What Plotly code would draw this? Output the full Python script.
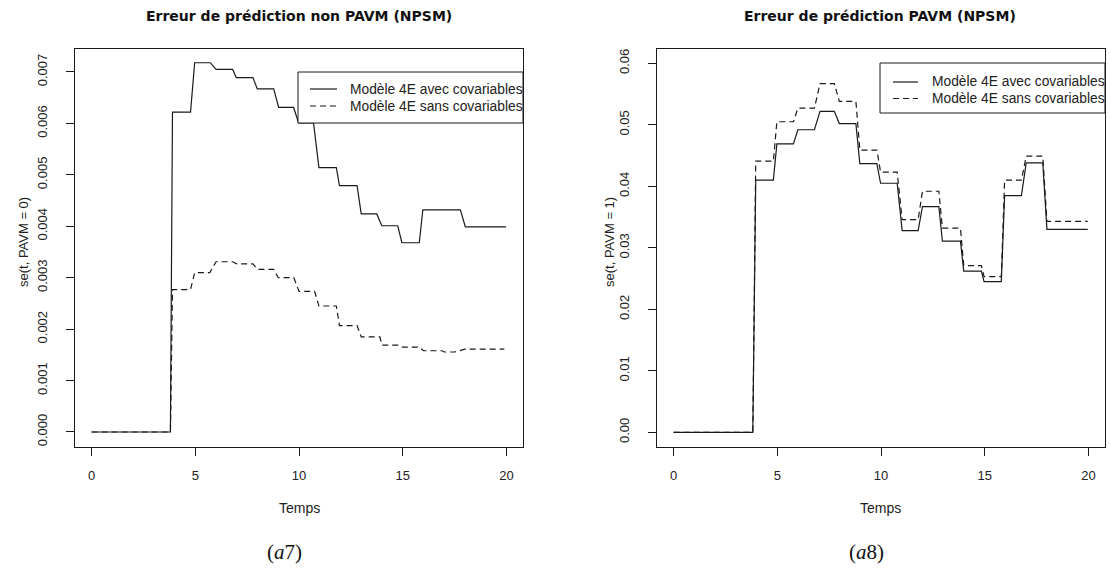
import plotly.graph_objects as go

# ---------------- data ----------------
# Left panel: prediction error, non PAVM (NPSM)
t_left_avec = [0, 3.80, 3.90, 4.77, 4.97, 5.73, 6.00, 6.80, 6.98, 7.78, 7.99, 8.78, 9.02, 9.74, 9.98,
               10.70, 10.96, 11.80, 11.95, 12.80, 13.00, 13.75, 13.99, 14.76, 14.96, 15.80, 15.97,
               17.78, 18.02, 19.98]
se_left_avec = [0, 0, 0.00622, 0.00622, 0.00718, 0.00718, 0.00705, 0.00705, 0.00689, 0.00689,
                0.00667, 0.00667, 0.00631, 0.00631, 0.00601, 0.00601, 0.00514, 0.00514, 0.00479,
                0.00479, 0.00424, 0.00424, 0.00401, 0.00401, 0.00368, 0.00368, 0.00432, 0.00432,
                0.00399, 0.00399]

t_left_sans = [0, 3.80, 3.90, 4.77, 4.97, 5.70, 6.00, 6.80, 7.00, 7.78, 8.00, 8.78, 9.00, 9.75,
               10.00, 10.75, 10.96, 11.80, 11.95, 12.80, 13.00, 13.90, 14.00, 14.80, 15.00, 15.80,
               16.00, 16.90, 17.00, 17.50, 18.00, 19.90]
se_left_sans = [0, 0, 0.00277, 0.00277, 0.00310, 0.00310, 0.00331, 0.00331, 0.00327, 0.00327,
                0.00316, 0.00316, 0.00300, 0.00300, 0.002735, 0.002735, 0.00245, 0.00245, 0.00207,
                0.00207, 0.00185, 0.00185, 0.00169, 0.00169, 0.00165, 0.00165, 0.00158, 0.00158,
                0.001555, 0.001555, 0.00161, 0.00161]

# Right panel: prediction error, PAVM (NPSM)
t_right = [0, 3.82, 3.96, 4.81, 4.98, 5.78, 5.99, 6.79, 7.06, 7.75, 7.99, 8.79, 8.98, 9.80, 9.98,
           10.78, 11.02, 11.79, 12.00, 12.79, 12.96, 13.83, 13.99, 14.84, 14.97, 15.80, 15.96,
           16.77, 17.00, 17.80, 18.00, 19.97]
se_right_avec = [0, 0, 0.0410, 0.0410, 0.0469, 0.0469, 0.0492, 0.0492, 0.0522, 0.0522, 0.0502,
                 0.0502, 0.0437, 0.0437, 0.0405, 0.0405, 0.0328, 0.0328, 0.0367, 0.0367, 0.0311,
                 0.0311, 0.0262, 0.0262, 0.0245, 0.0245, 0.0385, 0.0385, 0.0438, 0.0438, 0.0330,
                 0.0330]
se_right_sans = [0, 0, 0.0441, 0.0441, 0.0505, 0.0505, 0.0527, 0.0527, 0.0567, 0.0567, 0.0538,
                 0.0538, 0.0459, 0.0459, 0.0423, 0.0423, 0.0346, 0.0346, 0.0392, 0.0392, 0.0332,
                 0.0332, 0.0271, 0.0271, 0.0253, 0.0253, 0.0410, 0.0410, 0.0449, 0.0449, 0.0343,
                 0.0343]

series_names = ["Modèle 4E avec covariables", "Modèle 4E sans covariables"]
titles = ["Erreur de prédiction non PAVM (NPSM)", "Erreur de prédiction PAVM (NPSM)"]
y_titles = ["se(t, PAVM = 0)", "se(t, PAVM = 1)"]
x_title = "Temps"
captions = ["(<i>a</i>7)", "(<i>a</i>8)"]
x_ticks = [0, 5, 10, 15, 20]
y_ticks_left = [0, 0.001, 0.002, 0.003, 0.004, 0.005, 0.006, 0.007]
y_ticks_right = [0, 0.01, 0.02, 0.03, 0.04, 0.05, 0.06]

# ---------------- layout helpers (pixel -> paper) ----------------
W, H = 1110, 571
def px(x):
    return x / W
def py(y):
    return 1 - y / H

LINE = "#1a1a1a"
FONT = "Liberation Sans, Arial, sans-serif"
DASH = "6px,4px"

fig = go.Figure()
fig.add_trace(go.Scatter(x=t_left_avec, y=se_left_avec, mode="lines", xaxis="x", yaxis="y",
                         line=dict(color=LINE, width=1.2), showlegend=False, name=series_names[0]))
fig.add_trace(go.Scatter(x=t_left_sans, y=se_left_sans, mode="lines", xaxis="x", yaxis="y",
                         line=dict(color=LINE, width=1.2, dash=DASH), showlegend=False, name=series_names[1]))
fig.add_trace(go.Scatter(x=t_right, y=se_right_avec, mode="lines", xaxis="x2", yaxis="y2",
                         line=dict(color=LINE, width=1.2), showlegend=False, name=series_names[0]))
fig.add_trace(go.Scatter(x=t_right, y=se_right_sans, mode="lines", xaxis="x2", yaxis="y2",
                         line=dict(color=LINE, width=1.2, dash=DASH), showlegend=False, name=series_names[1]))

ax_common = dict(showline=True, mirror=True, linecolor=LINE, linewidth=1, ticks="outside",
                 ticklen=8, tickwidth=1, tickcolor=LINE, showgrid=False, zeroline=False,
                 tickfont=dict(family=FONT, size=13, color="#222"))

box_top, box_bot = 49, 447
yd = [py(box_bot), py(box_top)]

fig.update_layout(
    width=W, height=H, margin=dict(l=0, r=0, t=0, b=0),
    paper_bgcolor="white", plot_bgcolor="white", showlegend=False,
    xaxis=dict(domain=[px(75), px(523)], range=[-0.8, 20.8], tickvals=x_ticks,
               anchor="y", ticklabelstandoff=8, **ax_common),
    yaxis=dict(domain=yd, range=[-0.000292, 0.007447], tickvals=y_ticks_left, tickformat=".3f",
               tickangle=-90, anchor="x", ticklabelstandoff=14, **ax_common),
    xaxis2=dict(domain=[px(657), px(1105)], range=[-0.8, 20.8], tickvals=x_ticks,
                anchor="y2", ticklabelstandoff=8, **ax_common),
    yaxis2=dict(domain=yd, range=[-0.00239, 0.06233], tickvals=y_ticks_right, tickformat=".2f",
                tickangle=-90, anchor="x2", ticklabelstandoff=14, **ax_common),
)

ann = []
shapes = []
for i, (cx, axcx) in enumerate([(299, 23), (880, 609)]):
    ann.append(dict(text="<b>" + titles[i] + "</b>", x=px(cx), y=py(16), xref="paper", yref="paper",
                    showarrow=False, xanchor="center", yanchor="middle",
                    font=dict(family="DejaVu Sans, sans-serif", size=14, color="#111")))
    ann.append(dict(text=x_title, x=px(cx), y=py(508), xref="paper", yref="paper",
                    showarrow=False, xanchor="center", yanchor="middle",
                    font=dict(family=FONT, size=14, color="#222")))
    ann.append(dict(text=y_titles[i], x=px(axcx), y=py(242), xref="paper", yref="paper",
                    showarrow=False, xanchor="center", yanchor="middle", textangle=-90,
                    font=dict(family=FONT, size=13, color="#222")))

# captions
for cap, cx in zip(captions, [284, 866]):
    ann.append(dict(text=cap, x=px(cx), y=py(552), xref="paper", yref="paper", showarrow=False,
                    xanchor="center", yanchor="middle",
                    font=dict(family="Liberation Serif, DejaVu Serif, serif", size=21, color="#111")))

# legends (R-style boxes, clipped by the plot box on the right)
legends = [
    dict(x0=298, x1=523, y0=72, y1=123, sx0=310, sx1=337, rows=[89, 106], tx=348),
    dict(x0=880, x1=1105, y0=63, y1=113, sx0=893, sx1=918, rows=[82, 98.5], tx=930),
]
for lg in legends:
    shapes.append(dict(type="rect", xref="paper", yref="paper", x0=px(lg["x0"]), x1=px(lg["x1"]),
                       y0=py(lg["y1"]), y1=py(lg["y0"]), line=dict(color=LINE, width=1),
                       fillcolor="white", layer="above"))
    for j, ry in enumerate(lg["rows"]):
        shapes.append(dict(type="line", xref="paper", yref="paper", x0=px(lg["sx0"]), x1=px(lg["sx1"]),
                           y0=py(ry), y1=py(ry),
                           line=dict(color=LINE, width=1.2, dash=("solid" if j == 0 else DASH)),
                           layer="above"))
        ann.append(dict(text=series_names[j], x=px(lg["tx"]), y=py(ry), xref="paper", yref="paper",
                        showarrow=False, xanchor="left", yanchor="middle",
                        font=dict(family=FONT, size=13.8, color="#222")))

fig.update_layout(annotations=ann, shapes=shapes)
fig.write_html("out.html", config={"displayModeBar": False},
               post_script="document.body.style.margin='0';document.body.style.padding='0';")
